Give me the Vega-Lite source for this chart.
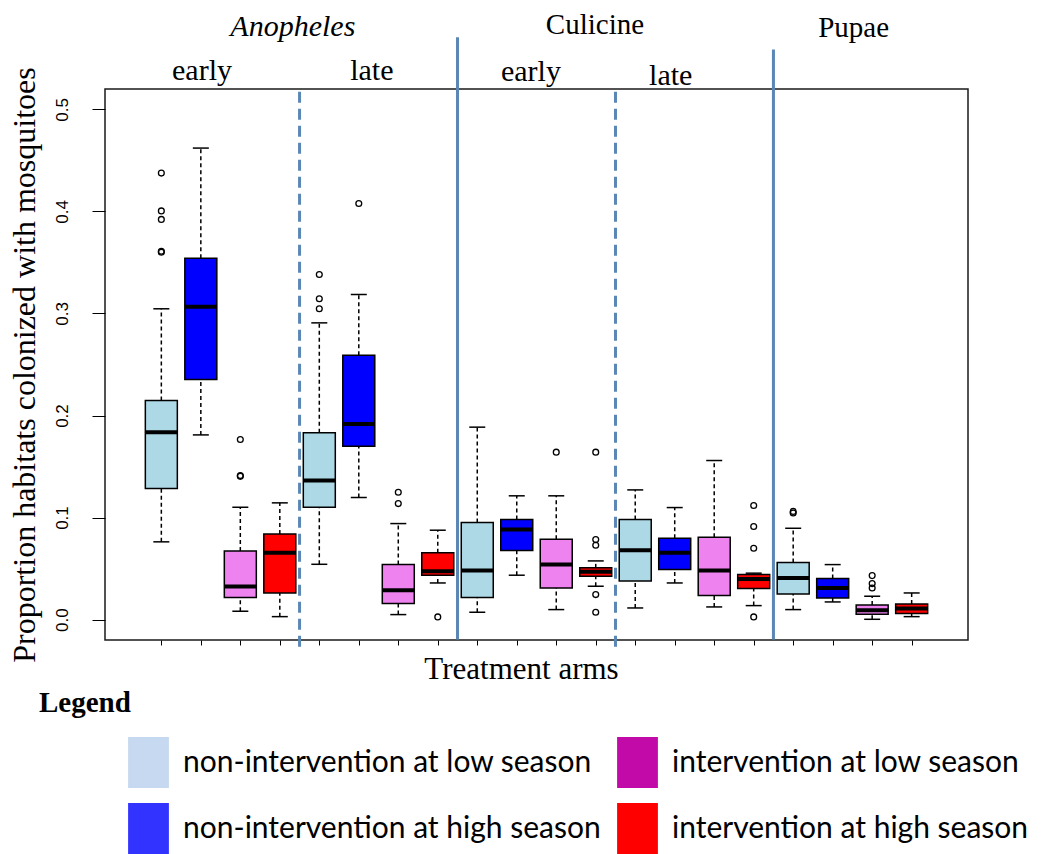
{
  "$schema": "https://vega.github.io/schema/vega-lite/v6.json",
  "width": 863,
  "height": 551,
  "autosize": {"type": "none"},
  "padding": {"left": 105, "top": 89, "right": 82, "bottom": 214},
  "background": "white",
  "config": {"view": {"stroke": "#1a1a1a", "strokeWidth": 1.5}, "font": "Liberation Serif"},
  "datasets": {
    "boxes": [
      {"pos": 1, "grp": "non-intervention at low season", "lo": 0.0762, "q1": 0.1284, "med": 0.1837, "q3": 0.2147, "hi": 0.3046},
      {"pos": 2, "grp": "non-intervention at high season", "lo": 0.1810, "q1": 0.2353, "med": 0.3066, "q3": 0.3542, "hi": 0.4621},
      {"pos": 3, "grp": "intervention at low season", "lo": 0.0082, "q1": 0.0216, "med": 0.0324, "q3": 0.0673, "hi": 0.1101},
      {"pos": 4, "grp": "intervention at high season", "lo": 0.0029, "q1": 0.0261, "med": 0.0654, "q3": 0.0840, "hi": 0.1144},
      {"pos": 5, "grp": "non-intervention at low season", "lo": 0.0542, "q1": 0.1101, "med": 0.1363, "q3": 0.1830, "hi": 0.2908},
      {"pos": 6, "grp": "non-intervention at high season", "lo": 0.1196, "q1": 0.1699, "med": 0.1918, "q3": 0.2591, "hi": 0.3186},
      {"pos": 7, "grp": "intervention at low season", "lo": 0.0049, "q1": 0.0157, "med": 0.0288, "q3": 0.0539, "hi": 0.0941},
      {"pos": 8, "grp": "intervention at high season", "lo": 0.0359, "q1": 0.0435, "med": 0.0474, "q3": 0.0654, "hi": 0.0876},
      {"pos": 9, "grp": "non-intervention at low season", "lo": 0.0072, "q1": 0.0216, "med": 0.0480, "q3": 0.0951, "hi": 0.1886},
      {"pos": 10, "grp": "non-intervention at high season", "lo": 0.0435, "q1": 0.0676, "med": 0.0882, "q3": 0.0980, "hi": 0.1213},
      {"pos": 11, "grp": "intervention at low season", "lo": 0.0098, "q1": 0.0310, "med": 0.0539, "q3": 0.0788, "hi": 0.1213},
      {"pos": 12, "grp": "intervention at high season", "lo": 0.0327, "q1": 0.0425, "med": 0.0468, "q3": 0.0507, "hi": 0.0575},
      {"pos": 13, "grp": "non-intervention at low season", "lo": 0.0114, "q1": 0.0379, "med": 0.0680, "q3": 0.0980, "hi": 0.1271},
      {"pos": 14, "grp": "non-intervention at high season", "lo": 0.0359, "q1": 0.0490, "med": 0.0654, "q3": 0.0797, "hi": 0.1098},
      {"pos": 15, "grp": "intervention at low season", "lo": 0.0124, "q1": 0.0235, "med": 0.0480, "q3": 0.0807, "hi": 0.1559},
      {"pos": 16, "grp": "intervention at high season", "lo": 0.0137, "q1": 0.0304, "med": 0.0399, "q3": 0.0441, "hi": 0.0455},
      {"pos": 17, "grp": "non-intervention at low season", "lo": 0.0098, "q1": 0.0252, "med": 0.0408, "q3": 0.0559, "hi": 0.0895},
      {"pos": 18, "grp": "non-intervention at high season", "lo": 0.0173, "q1": 0.0212, "med": 0.0310, "q3": 0.0402, "hi": 0.0539},
      {"pos": 19, "grp": "intervention at low season", "lo": 0.0003, "q1": 0.0052, "med": 0.0091, "q3": 0.0144, "hi": 0.0229},
      {"pos": 20, "grp": "intervention at high season", "lo": 0.0029, "q1": 0.0059, "med": 0.0108, "q3": 0.0154, "hi": 0.0261}
    ],
    "outliers": [
      {"pos": 1, "v": 0.4376}, {"pos": 1, "v": 0.4005}, {"pos": 1, "v": 0.3922}, {"pos": 1, "v": 0.3610}, {"pos": 1, "v": 0.3600},
      {"pos": 3, "v": 0.1765}, {"pos": 3, "v": 0.1412}, {"pos": 3, "v": 0.1404},
      {"pos": 5, "v": 0.3382}, {"pos": 5, "v": 0.3144}, {"pos": 5, "v": 0.3046},
      {"pos": 6, "v": 0.4078},
      {"pos": 7, "v": 0.1248}, {"pos": 7, "v": 0.1137},
      {"pos": 8, "v": 0.0026},
      {"pos": 11, "v": 0.1641},
      {"pos": 12, "v": 0.1641}, {"pos": 12, "v": 0.0784}, {"pos": 12, "v": 0.0729}, {"pos": 12, "v": 0.0245}, {"pos": 12, "v": 0.0072},
      {"pos": 16, "v": 0.1118}, {"pos": 16, "v": 0.0912}, {"pos": 16, "v": 0.0699}, {"pos": 16, "v": 0.0026},
      {"pos": 17, "v": 0.1060}, {"pos": 17, "v": 0.1045},
      {"pos": 19, "v": 0.0431}, {"pos": 19, "v": 0.0353}, {"pos": 19, "v": 0.0310}
    ],
    "dashed": [
      {"pos": 4.5, "top": 0.5206, "bottom": -0.0265},
      {"pos": 12.5, "top": 0.5206, "bottom": -0.0265}
    ],
    "solid": [
      {"pos": 8.5, "top": 0.5706, "bottom": -0.0196},
      {"pos": 16.5, "top": 0.5588, "bottom": -0.0196}
    ],
    "italicHeads": [
      {"pos": 4.33, "v": 0.5716, "label": "Anopheles"}
    ],
    "heads": [
      {"pos": 11.98, "v": 0.5735, "label": "Culicine"},
      {"pos": 18.53, "v": 0.5706, "label": "Pupae"}
    ],
    "subHeads": [
      {"pos": 2.03, "v": 0.5284, "label": "early"},
      {"pos": 6.33, "v": 0.5284, "label": "late"},
      {"pos": 10.36, "v": 0.5275, "label": "early"},
      {"pos": 13.9, "v": 0.5235, "label": "late"}
    ],
    "legendTitle": [
      {"pos": -2.1, "v": -0.0902, "label": "Legend"}
    ]
  },
  "layer": [
    {
      "data": {"name": "dashed"},
      "mark": {"type": "rule", "color": "#5b87b5", "strokeWidth": 3, "strokeDash": [11, 6]},
      "encoding": {
        "x": {"field": "pos", "type": "quantitative", "title": "Treatment arms"},
        "y": {"field": "bottom", "type": "quantitative", "title": "Proportion habitats colonized with mosquitoes"},
        "y2": {"field": "top"}
      }
    },
    {
      "data": {"name": "solid"},
      "mark": {"type": "rule", "color": "#5b87b5", "strokeWidth": 3},
      "encoding": {
        "x": {"field": "pos", "type": "quantitative", "title": "Treatment arms"},
        "y": {"field": "bottom", "type": "quantitative", "title": "Proportion habitats colonized with mosquitoes"},
        "y2": {"field": "top"}
      }
    },
    {
      "data": {"name": "boxes"},
      "mark": {"type": "rule", "color": "black", "strokeWidth": 1.5, "strokeDash": [4, 3]},
      "encoding": {
        "x": {"field": "pos", "type": "quantitative", "title": "Treatment arms"},
        "y": {"field": "lo", "type": "quantitative", "title": "Proportion habitats colonized with mosquitoes"},
        "y2": {"field": "q1"}
      }
    },
    {
      "data": {"name": "boxes"},
      "mark": {"type": "rule", "color": "black", "strokeWidth": 1.5, "strokeDash": [4, 3]},
      "encoding": {
        "x": {"field": "pos", "type": "quantitative", "title": "Treatment arms"},
        "y": {"field": "q3", "type": "quantitative", "title": "Proportion habitats colonized with mosquitoes"},
        "y2": {"field": "hi"}
      }
    },
    {
      "data": {"name": "boxes"},
      "mark": {"type": "tick", "orient": "horizontal", "color": "black", "size": 16, "thickness": 1.5, "opacity": 1},
      "encoding": {
        "x": {"field": "pos", "type": "quantitative", "title": "Treatment arms"},
        "y": {"field": "lo", "type": "quantitative", "title": "Proportion habitats colonized with mosquitoes"}
      }
    },
    {
      "data": {"name": "boxes"},
      "mark": {"type": "tick", "orient": "horizontal", "color": "black", "size": 16, "thickness": 1.5, "opacity": 1},
      "encoding": {
        "x": {"field": "pos", "type": "quantitative", "title": "Treatment arms"},
        "y": {"field": "hi", "type": "quantitative", "title": "Proportion habitats colonized with mosquitoes"}
      }
    },
    {
      "data": {"name": "boxes"},
      "mark": {"type": "point", "shape": "square", "filled": true, "opacity": 0, "size": 10},
      "encoding": {
        "x": {"field": "pos", "type": "quantitative", "title": "Treatment arms"},
        "y": {"field": "med", "type": "quantitative", "title": "Proportion habitats colonized with mosquitoes"},
        "fill": {
          "field": "grp", "type": "nominal",
          "scale": {
            "domain": ["non-intervention at low season", "non-intervention at high season", "intervention at low season", "intervention at high season"],
            "range": ["#c6d9f0", "#3333ff", "#c20aa8", "#ff0000"]
          },
          "legend": {
            "orient": "none", "legendX": 18, "legendY": 648, "direction": "vertical", "columns": 2,
            "title": null,
            "symbolType": "M-0.8,-1H0.8V1H-0.8Z", "symbolSize": 2601, "symbolStrokeWidth": 0, "symbolOpacity": 1,
            "labelFont": "Lato", "labelFontSize": 30,
            "labelColor": "black", "labelLimit": 0, "labelOffset": 9,
            "rowPadding": 15, "columnPadding": 11
          }
        }
      }
    },
    {
      "data": {"name": "boxes"},
      "mark": {"type": "bar", "width": 32, "stroke": "black", "strokeWidth": 1.5, "opacity": 1},
      "encoding": {
        "x": {
          "field": "pos", "type": "quantitative", "title": "Treatment arms",
          "scale": {"domain": [-0.3, 21.3], "nice": false, "zero": false},
          "axis": {
            "values": [1, 2, 3, 4, 5, 6, 7, 8, 9, 10, 11, 12, 13, 14, 15, 16, 17, 18, 19, 20],
            "labels": false, "domain": false, "grid": false,
            "ticks": true, "tickSize": 5, "tickColor": "black", "tickWidth": 1,
            "titleFont": "Liberation Serif", "titleFontSize": 31, "titleFontWeight": "normal", "titleColor": "black",
            "titleX": 416, "titleY": 38, "titleBaseline": "alphabetic"
          }
        },
        "y": {
          "field": "q1", "type": "quantitative", "title": "Proportion habitats colonized with mosquitoes",
          "scale": {"domain": [-0.02, 0.52], "nice": false, "zero": false},
          "axis": {
            "values": [0, 0.1, 0.2, 0.3, 0.4, 0.5], "format": ".1f",
            "labelAngle": -90, "labelAlign": "center", "labelBaseline": "bottom",
            "labelFont": "Liberation Sans", "labelFontSize": 17, "labelColor": "black", "labelPadding": 21,
            "domain": false, "grid": false, "tickSize": 13, "tickColor": "black", "tickWidth": 1,
            "titleFont": "Liberation Serif", "titleFontSize": 32, "titleFontWeight": "normal", "titleColor": "black",
            "titlePadding": 12
          }
        },
        "y2": {"field": "q3"},
        "color": {
          "field": "grp", "type": "nominal",
          "scale": {
            "domain": ["non-intervention at low season", "non-intervention at high season", "intervention at low season", "intervention at high season"],
            "range": ["#add8e6", "#0000ff", "#ee82ee", "#ff0000"]
          },
          "legend": null
        }
      }
    },
    {
      "data": {"name": "boxes"},
      "mark": {"type": "tick", "orient": "horizontal", "color": "black", "size": 32, "thickness": 4, "opacity": 1},
      "encoding": {
        "x": {"field": "pos", "type": "quantitative", "title": "Treatment arms"},
        "y": {"field": "med", "type": "quantitative", "title": "Proportion habitats colonized with mosquitoes"}
      }
    },
    {
      "data": {"name": "outliers"},
      "mark": {"type": "point", "shape": "circle", "filled": false, "size": 34, "stroke": "black", "strokeWidth": 1.3, "opacity": 1},
      "encoding": {
        "x": {"field": "pos", "type": "quantitative", "title": "Treatment arms"},
        "y": {"field": "v", "type": "quantitative", "title": "Proportion habitats colonized with mosquitoes"}
      }
    },
    {
      "data": {"name": "italicHeads"},
      "mark": {"type": "text", "font": "Liberation Serif", "fontStyle": "italic", "fontSize": 30, "align": "center", "baseline": "alphabetic", "color": "black"},
      "encoding": {
        "x": {"field": "pos", "type": "quantitative", "title": "Treatment arms"},
        "y": {"field": "v", "type": "quantitative", "title": "Proportion habitats colonized with mosquitoes"},
        "text": {"field": "label"}
      }
    },
    {
      "data": {"name": "heads"},
      "mark": {"type": "text", "font": "Liberation Serif", "fontSize": 29, "align": "center", "baseline": "alphabetic", "color": "black"},
      "encoding": {
        "x": {"field": "pos", "type": "quantitative", "title": "Treatment arms"},
        "y": {"field": "v", "type": "quantitative", "title": "Proportion habitats colonized with mosquitoes"},
        "text": {"field": "label"}
      }
    },
    {
      "data": {"name": "subHeads"},
      "mark": {"type": "text", "font": "Liberation Serif", "fontSize": 30, "align": "center", "baseline": "alphabetic", "color": "black"},
      "encoding": {
        "x": {"field": "pos", "type": "quantitative", "title": "Treatment arms"},
        "y": {"field": "v", "type": "quantitative", "title": "Proportion habitats colonized with mosquitoes"},
        "text": {"field": "label"}
      }
    },
    {
      "data": {"name": "legendTitle"},
      "mark": {"type": "text", "font": "Liberation Serif", "fontSize": 29, "fontWeight": "bold", "align": "left", "baseline": "alphabetic", "color": "black"},
      "encoding": {
        "x": {"field": "pos", "type": "quantitative", "title": "Treatment arms"},
        "y": {"field": "v", "type": "quantitative", "title": "Proportion habitats colonized with mosquitoes"},
        "text": {"field": "label"}
      }
    }
  ]
}
